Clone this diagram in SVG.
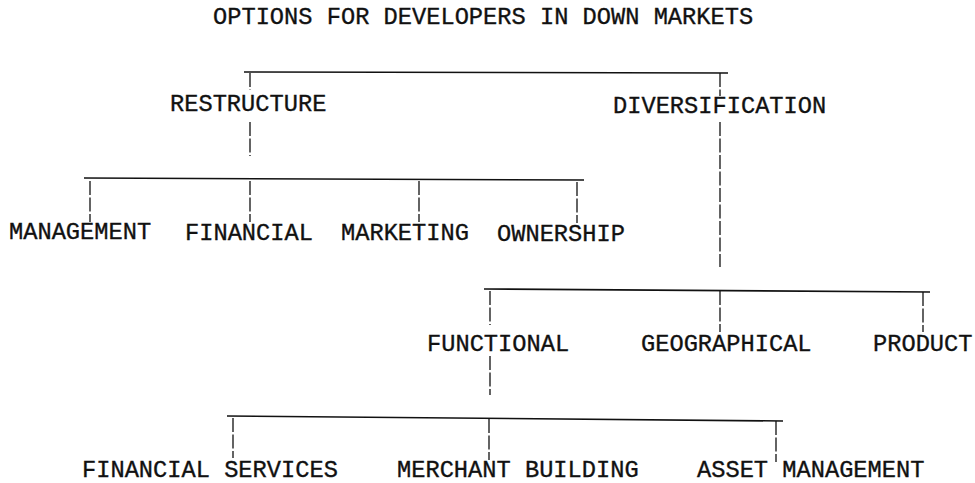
<svg xmlns="http://www.w3.org/2000/svg" width="975" height="483" viewBox="0 0 975 483">
  <style>
    text { font-family: "Courier New", "Nimbus Mono PS", "Liberation Mono", monospace; font-size: 23.7px; fill: #111; stroke: #111; stroke-width: 0.35; }
    .bar { stroke: #111; stroke-width: 1.6; fill: none; }
    .tick { stroke: #111; stroke-width: 1.3; fill: none; stroke-dasharray: 14 2.5; }
  </style>
  <rect width="975" height="483" fill="#fff"/>

  <g id="title">
    <text x="213" y="24">OPTIONS FOR DEVELOPERS IN DOWN MARKETS</text>
  </g>

  <!-- tree connectors: solid bus bars with stacked-bar stems -->
  <g id="connectors">
    <!-- level 1 -->
    <path class="bar" d="M244 72 L728 73"/>
    <path class="tick" d="M250 73 V90"/>
    <path class="tick" d="M720 73 V96"/>
    <!-- restructure branch -->
    <path class="tick" d="M250 122 V156"/>
    <path class="bar" d="M84 178 L584 180"/>
    <path class="tick" d="M90 181 V222"/>
    <path class="tick" d="M250 181 V222"/>
    <path class="tick" d="M419 181 V222"/>
    <path class="tick" d="M577 182 V223"/>
    <!-- diversification branch -->
    <path class="tick" d="M720 122 V267"/>
    <path class="bar" d="M484 289 L930 292"/>
    <path class="tick" d="M490 291 V325"/>
    <path class="tick" d="M720 291 V332"/>
    <path class="tick" d="M923 292 V332"/>
    <!-- functional branch -->
    <path class="tick" d="M490 356 V395"/>
    <path class="bar" d="M227 416 L783 421"/>
    <path class="tick" d="M233 418 V458"/>
    <path class="tick" d="M489 419 V460"/>
    <path class="tick" d="M776 421 V462"/>
  </g>

  <g id="restructure"><text x="170" y="111">RESTRUCTURE</text></g>
  <g id="diversification"><text x="613" y="113">DIVERSIFICATION</text></g>

  <g id="management"><text x="9" y="239">MANAGEMENT</text></g>
  <g id="financial"><text x="185" y="240">FINANCIAL</text></g>
  <g id="marketing"><text x="341" y="240">MARKETING</text></g>
  <g id="ownership"><text x="497" y="241">OWNERSHIP</text></g>

  <g id="functional"><text x="427" y="351">FUNCTIONAL</text></g>
  <g id="geographical"><text x="641" y="351">GEOGRAPHICAL</text></g>
  <g id="product"><text x="873" y="351">PRODUCT</text></g>

  <g id="financial-services"><text x="82" y="477">FINANCIAL SERVICES</text></g>
  <g id="merchant-building"><text x="397" y="477">MERCHANT BUILDING</text></g>
  <g id="asset-management"><text x="697" y="477">ASSET MANAGEMENT</text></g>
</svg>
